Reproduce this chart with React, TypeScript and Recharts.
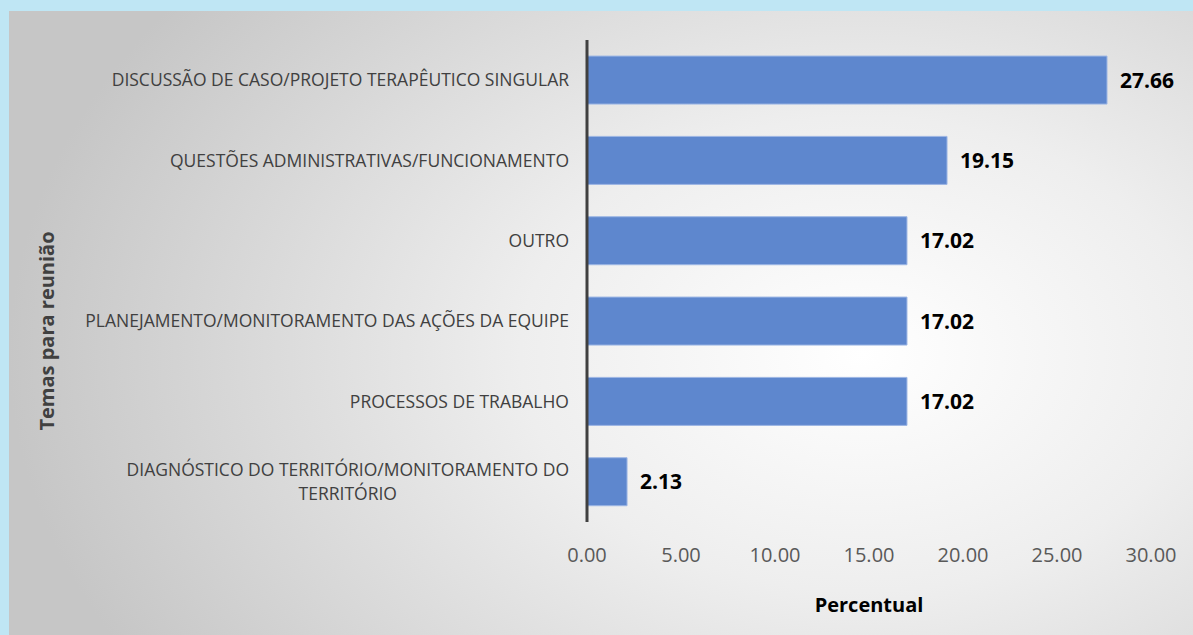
import { BarChart, Bar, XAxis, YAxis, LabelList, Label } from "recharts";

const temas = [
  "DISCUSSÃO DE CASO/PROJETO TERAPÊUTICO SINGULAR",
  "QUESTÕES ADMINISTRATIVAS/FUNCIONAMENTO",
  "OUTRO",
  "PLANEJAMENTO/MONITORAMENTO DAS AÇÕES DA EQUIPE",
  "PROCESSOS DE TRABALHO",
  "DIAGNÓSTICO DO TERRITÓRIO/MONITORAMENTO DO TERRITÓRIO",
];
const percentuais = [27.66, 19.15, 17.02, 17.02, 17.02, 2.13];
const xTicks = [0, 5, 10, 15, 20, 25, 30];

const data = temas.map((tema, i) => ({ tema, valor: percentuais[i] }));

const FONT = "'Open Sans', sans-serif";
const CAT_SIZE = 17.5;

// quebra simples por número de caracteres
const wrap = (txt: string, max: number) => {
  const words = txt.split(" ");
  const lines: string[] = [];
  let cur = "";
  words.forEach((w) => {
    const next = cur ? cur + " " + w : w;
    if (next.length > max && cur) {
      lines.push(cur);
      cur = w;
    } else cur = next;
  });
  if (cur) lines.push(cur);
  return lines;
};

let ctx: CanvasRenderingContext2D | null = null;
const measure = (s: string) => {
  if (!ctx) ctx = document.createElement("canvas").getContext("2d");
  if (!ctx) return s.length * CAT_SIZE * 0.6;
  ctx.font = `${CAT_SIZE}px 'Open Sans'`;
  return ctx.measureText(s).width;
};

const CategoryTick = ({ x, y, payload }: any) => {
  const lines = wrap(payload.value, 48);
  const lh = 24;
  const start = -((lines.length - 1) * lh) / 2;
  // rótulos em várias linhas ficam centralizados, como no Excel
  const multi = lines.length > 1;
  const cx = multi ? x - Math.max(...lines.map(measure)) / 2 : x;
  return (
    <text
      x={cx}
      y={y}
      textAnchor={multi ? "middle" : "end"}
      fill="#404040"
      fontSize={CAT_SIZE}
      fontFamily={FONT}
    >
      {lines.map((l, i) => (
        <tspan key={i} x={cx} dy={i === 0 ? start + 6 : lh}>
          {l}
        </tspan>
      ))}
    </text>
  );
};

const ValueTick = ({ x, y, payload }: any) => (
  <text
    x={x}
    y={y}
    dy="0.35em"
    textAnchor="middle"
    fill="#595959"
    fontSize={20}
    fontFamily={FONT}
  >
    {Number(payload.value).toFixed(2)}
  </text>
);

export default function App() {
  return (
    <div
      style={{
        position: "fixed",
        left: 0,
        top: 0,
        width: 1193,
        height: 635,
        background: "#bfe6f4",
      }}
    >
      <div
        style={{
          position: "absolute",
          left: 9,
          top: 11,
          width: 1184,
          height: 624,
          background:
            "radial-gradient(ellipse 72% 95% at 72% 55%, #ffffff 0%, #eeeeee 40%, #c6c6c6 100%)",
        }}
      >
        <BarChart
          width={1184}
          height={624}
          data={data}
          layout="vertical"
          margin={{ top: 29, right: 42, bottom: 0, left: 0 }}
          barCategoryGap="20%"
        >
          <XAxis
            type="number"
            domain={[0, 30]}
            ticks={xTicks}
            axisLine={false}
            tickLine={false}
            tickSize={0}
            tickMargin={33}
            height={113}
            tick={<ValueTick />}
          >
            <Label
              content={({ viewBox }: any) => (
                <text
                  x={viewBox.x + viewBox.width / 2}
                  y={594}
                  dy="0.35em"
                  textAnchor="middle"
                  fontSize={20}
                  fontWeight="bold"
                  fill="#000"
                  fontFamily={FONT}
                >
                  Percentual
                </text>
              )}
            />
          </XAxis>
          <YAxis
            type="category"
            dataKey="tema"
            width={578}
            axisLine={{ stroke: "#404040", strokeWidth: 3 }}
            tickLine={false}
            tickSize={0}
            tickMargin={18}
            interval={0}
            tick={<CategoryTick />}
          >
            <Label
              content={() => (
                <text
                  x={38}
                  y={320}
                  transform="rotate(-90 38 320)"
                  dy="0.35em"
                  textAnchor="middle"
                  fontSize={20}
                  fontWeight="bold"
                  fill="#404040"
                  fontFamily={FONT}
                >
                  Temas para reunião
                </text>
              )}
            />
          </YAxis>
          <Bar
            dataKey="valor"
            fill="#5e87ce"
            stroke="#9db6e4"
            strokeWidth={1}
            isAnimationActive={false}
          >
            <LabelList
              dataKey="valor"
              position="right"
              offset={13}
              formatter={(v: any) => Number(v).toFixed(2)}
              style={{
                fontSize: 21,
                fontWeight: "bold",
                fill: "#000",
                fontFamily: FONT,
              }}
            />
          </Bar>
        </BarChart>
      </div>
    </div>
  );
}
